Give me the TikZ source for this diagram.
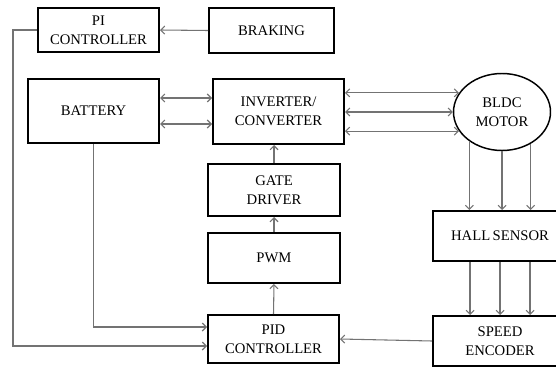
\documentclass[tikz,border=0pt]{standalone}
\usepackage{fontspec}
\setmainfont{Liberation Serif}
\usetikzlibrary{positioning, arrows.meta, shapes.geometric}

\begin{document}
\begin{tikzpicture}[x=0.75pt,y=-0.75pt,block/.style={draw=black,line width=1.5pt,fill=white,align=center,font=\fontsize{11}{14}\selectfont,inner sep=2pt},motorshape/.style={block,ellipse,line width=1.1pt},link/.style={draw=black!55,line width=0.8pt},arrow/.style={link,-{Straight Barb[length=3pt,width=6pt]}},both/.style={link,{Straight Barb[length=3pt,width=6pt]}-{Straight Barb[length=3pt,width=6pt]}}]
\clip (0,0) rectangle (556,367);
\node[block, minimum width=90.75pt, minimum height=33pt] (pi) at (98.5,30) {PI\\CONTROLLER};
\node[block, minimum width=93.75pt, minimum height=33.75pt] (brake) at (271.5,30.5) {BRAKING};
\node[block, minimum width=98.25pt, minimum height=48pt] (batt) at (93.5,111) {BATTERY};
\node[block, minimum width=98.25pt, minimum height=48.75pt] (inv) at (278.5,111.5) {INVERTER/\\CONVERTER};
\node[block, minimum width=99pt, minimum height=39pt] (gate) at (274,190) {GATE\\DRIVER};
\node[block, minimum width=99pt, minimum height=37.5pt] (pwm) at (274,258) {PWM};
\node[block, minimum width=98.25pt, minimum height=36pt] (pid) at (273.5,339) {PID\\CONTROLLER};
\node[motorshape, minimum width=72.75pt, minimum height=57.75pt, inner sep=0pt] (motor) at (502,112) {BLDC\\MOTOR};
\node[block, minimum width=100.5pt, minimum height=37.5pt] (hall) at (500,236) {HALL\,SENSOR};
\node[block, minimum width=100.5pt, minimum height=37.5pt] (speed) at (500,341) {SPEED\\ENCODER};
\coordinate (rail) at (13,0);
% power path
\draw[both] ([yshift=9.75pt]batt.east) -- ([yshift=9.75pt]batt.east -| inv.west);
\draw[both] ([yshift=-9.75pt]batt.east) -- ([yshift=-9.75pt]batt.east -| inv.west);
\draw[both] (inv.east |- motor.156) -- (motor.156);
\draw[both] (inv.east |- motor.west) -- (motor.west);
\draw[both] (inv.east |- motor.204) -- (motor.204);
% feedback
\draw[arrow] (motor.222) -- (motor.222 |- hall.north);
\draw[arrow] (motor.south) -- (motor.south |- hall.north);
\draw[arrow] (motor.312) -- (motor.312 |- hall.north);
\draw[arrow] ([xshift=-22.5pt]hall.south) -- ([xshift=-22.5pt]speed.north);
\draw[arrow] (hall.south) -- (speed.north);
\draw[arrow] ([xshift=22.5pt]hall.south) -- ([xshift=22.5pt]speed.north);
\draw[arrow] (speed.west) -- (pid.east);
% control
\draw[arrow] (pid.north) -- (pwm.south);
\draw[arrow] (pwm.north) -- (gate.south);
\draw[arrow] (gate.north) -- (gate.north |- inv.south);
\draw[arrow] (batt.south) |- ([yshift=9pt]pid.west);
\draw[arrow] (brake.west) -- (pi.east);
\draw[arrow] (pi.west) -- (pi.west -| rail) |- ([yshift=-5.25pt]pid.west);
\end{tikzpicture}
\end{document}
